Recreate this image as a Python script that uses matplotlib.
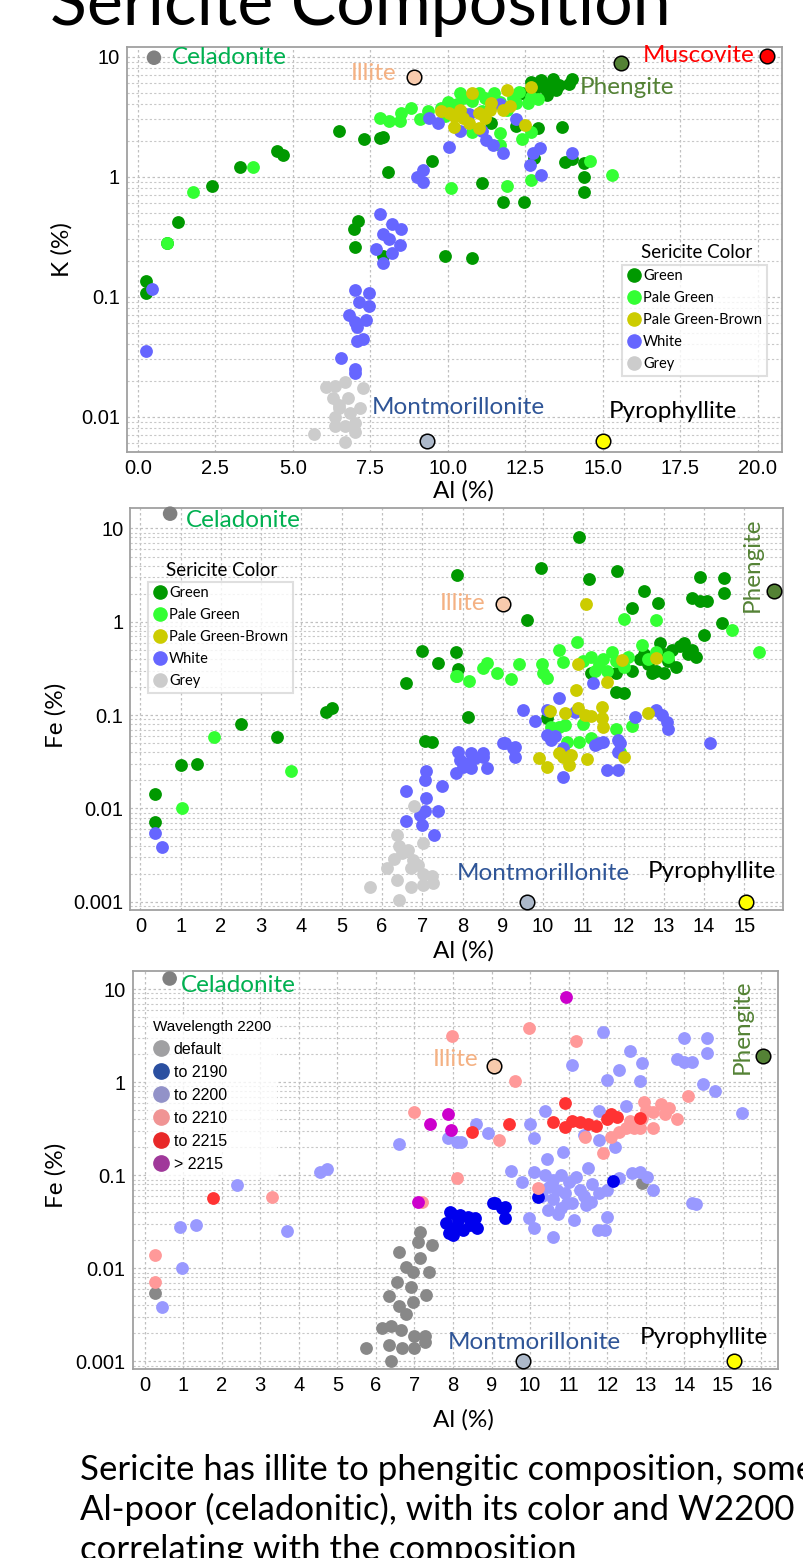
import matplotlib
matplotlib.use("Agg")
import matplotlib.pyplot as plt
from matplotlib.lines import Line2D
from matplotlib.ticker import FixedLocator, FixedFormatter, LogLocator, NullFormatter

# ---------------- data: panel 1 (Al vs K), by sericite color ----------------
k_green = [(0.26, 0.134), (0.26, 0.108), (0.93, 0.28), (1.3, 0.42), (2.4, 0.84), (3.3, 1.21),
           (4.5, 1.65), (4.7, 1.52), (6.5, 2.4), (7.3, 2.07), (7.8, 2.1), (7.9, 2.15), (9.5, 1.36),
           (8.06, 1.1), (7.1, 0.43), (6.97, 0.37), (7.0, 0.26), (7.9, 0.22), (9.9, 0.22), (10.8, 0.21),
           (11.1, 0.89), (11.8, 0.61), (12.45, 0.61), (11.4, 2.8), (12.2, 2.65), (12.9, 2.55),
           (13.7, 2.6), (12.8, 1.44), (13.8, 1.33), (14.0, 1.4), (14.4, 1.31), (14.4, 1.0), (14.4, 0.75),
           (12.4, 5.0), (13.0, 6.4), (13.4, 6.5), (14.0, 6.5), (13.5, 5.3), (13.2, 4.8), (12.7, 6.1),
           (13.1, 5.6), (12.97, 6.3), (13.6, 5.8), (13.3, 5.9), (12.8, 5.2), (12.6, 4.6), (13.9, 5.9)]
k_pale = [(0.93, 0.28), (1.77, 0.75), (3.7, 1.21), (7.8, 3.1), (8.1, 2.9), (8.45, 2.9), (8.5, 3.4),
          (8.8, 3.7), (9.1, 3.0), (9.35, 3.5), (9.8, 3.75), (9.9, 3.2), (10.2, 3.6), (10.5, 3.4),
          (10.4, 5.0), (10.5, 4.55), (11.0, 5.0), (11.2, 4.55), (11.5, 5.0), (11.7, 4.2), (12.1, 4.55),
          (12.3, 5.1), (12.6, 4.1), (12.7, 4.6), (11.1, 3.5), (11.9, 3.6), (12.2, 4.1), (10.8, 2.37),
          (11.7, 2.3), (12.4, 2.07), (12.7, 2.37), (11.7, 1.85), (11.9, 0.84), (12.7, 0.94), (10.1, 0.8),
          (14.6, 1.36), (15.3, 1.04), (10.0, 4.2), (10.8, 4.3), (11.4, 3.9), (12.9, 4.4), (10.3, 4.0)]
k_brown = [(9.8, 3.5), (10.05, 3.4), (10.2, 2.6), (10.8, 5.0), (11.0, 2.55), (10.5, 3.1), (11.0, 3.4),
           (11.35, 3.6), (11.4, 4.1), (11.9, 5.3), (11.8, 3.6), (12.5, 2.7), (12.7, 5.6), (10.2, 3.2),
           (10.7, 2.8), (11.2, 3.1), (10.4, 3.6), (12.0, 3.9)]
k_white = [(0.45, 0.117), (0.26, 0.035), (9.4, 3.1), (9.7, 2.8), (10.4, 2.4), (10.05, 1.78), (11.25, 2.03),
           (11.45, 1.85), (11.8, 1.58), (11.7, 4.0), (12.2, 3.0), (9.2, 1.14), (9.0, 1.0), (9.2, 0.91),
           (12.97, 1.74), (12.75, 1.58), (12.65, 1.26), (13.0, 1.04), (14.0, 1.58), (7.8, 0.49), (8.2, 0.40),
           (8.5, 0.37), (7.9, 0.33), (8.1, 0.30), (8.45, 0.27), (7.7, 0.25), (8.2, 0.23), (7.9, 0.19),
           (7.0, 0.114), (7.45, 0.108), (7.13, 0.091), (7.45, 0.083), (6.8, 0.071), (7.0, 0.062),
           (7.35, 0.064), (7.06, 0.056), (7.06, 0.043), (7.26, 0.044), (6.55, 0.031), (7.0, 0.025),
           (7.0, 0.023), (11.1, 2.4), (10.7, 3.3)]
k_grey = [(6.06, 0.0178), (6.35, 0.0181), (6.68, 0.0193), (7.26, 0.0175), (6.29, 0.0144), (6.77, 0.0144),
          (7.16, 0.0119), (6.48, 0.0119), (6.35, 0.0100), (7.0, 0.0089), (6.7, 0.0083), (6.35, 0.0083),
          (7.0, 0.0075), (5.68, 0.0072), (6.68, 0.0061), (6.48, 0.0126), (6.84, 0.0108)]

# ---------------- data: panel 2 (Al vs Fe), by sericite color ----------------
fe_green = [(0.37, 0.0144), (0.37, 0.0072), (1.0, 0.029), (1.4, 0.030), (2.5, 0.08), (3.4, 0.058),
            (4.6, 0.108), (4.76, 0.12), (6.6, 0.22), (7.0, 0.49), (7.4, 0.36), (7.84, 0.47), (7.9, 0.31),
            (7.87, 3.2), (7.07, 0.053), (7.25, 0.052), (8.14, 0.096), (9.95, 3.8), (10.9, 8.1),
            (11.14, 2.9), (11.84, 3.5), (13.9, 3.0), (14.5, 2.95), (14.5, 2.05), (12.5, 2.15),
            (12.85, 1.6), (12.2, 1.41), (13.7, 1.8), (13.9, 1.68), (14.06, 1.68), (9.6, 1.05),
            (14.45, 0.97), (14.0, 0.72), (11.8, 0.178), (12.0, 0.174), (11.2, 0.28), (11.8, 0.28),
            (10.1, 0.094), (12.4, 0.4), (12.6, 0.35), (12.8, 0.3), (13.0, 0.45), (13.2, 0.5), (13.4, 0.55),
            (13.5, 0.6), (13.6, 0.45), (13.7, 0.5), (13.8, 0.42), (12.9, 0.6), (13.1, 0.38), (12.7, 0.28),
            (13.3, 0.33), (12.2, 0.3), (12.5, 0.45), (13.0, 0.28)]
fe_pale = [(1.03, 0.0102), (1.84, 0.058), (3.75, 0.025), (7.84, 0.26), (12.0, 1.08), (12.8, 1.05),
           (14.7, 0.82), (15.36, 0.48), (10.84, 0.61), (10.4, 0.5), (12.45, 0.57), (8.6, 0.36), (8.5, 0.32),
           (8.86, 0.28), (9.2, 0.245), (9.4, 0.35), (9.97, 0.35), (10.0, 0.28), (10.1, 0.25), (10.5, 0.37),
           (7.87, 0.26), (8.16, 0.23), (11.7, 0.48), (12.8, 0.48), (10.2, 0.075), (10.4, 0.075),
           (10.55, 0.079), (11.0, 0.08), (11.2, 0.057), (10.9, 0.052), (11.8, 0.071), (12.2, 0.077),
           (11.9, 0.04), (10.6, 0.052), (11.0, 0.38), (11.2, 0.42), (11.4, 0.35), (11.5, 0.4), (11.6, 0.3),
           (11.8, 0.38), (12.0, 0.33), (11.3, 0.3), (12.1, 0.42), (12.6, 0.4), (13.1, 0.42)]
fe_brown = [(11.07, 1.56), (11.96, 0.39), (12.8, 0.41), (10.87, 0.35), (11.6, 0.227), (10.82, 0.187),
            (11.46, 0.123), (12.6, 0.106), (10.17, 0.11), (10.55, 0.106), (10.87, 0.12), (11.04, 0.1),
            (11.2, 0.098), (11.46, 0.094), (11.5, 0.075), (9.9, 0.035), (10.1, 0.028), (10.4, 0.039),
            (10.5, 0.036), (10.7, 0.037), (10.65, 0.029), (11.1, 0.034), (12.0, 0.036)]
fe_white = [(0.37, 0.0055), (0.55, 0.0039), (6.6, 0.0153), (7.07, 0.0203), (7.1, 0.025), (7.5, 0.0175),
            (6.6, 0.0074), (7.07, 0.0094), (6.95, 0.0086), (7.0, 0.0067), (7.3, 0.0052), (7.1, 0.013),
            (7.4, 0.0094), (7.85, 0.024), (7.95, 0.033), (8.14, 0.031), (8.3, 0.035), (8.5, 0.036),
            (8.6, 0.027), (7.9, 0.04), (8.2, 0.027), (8.0, 0.028), (9.06, 0.05), (9.3, 0.046), (9.3, 0.036),
            (10.2, 0.054), (10.5, 0.022), (11.6, 0.026), (11.85, 0.026), (11.4, 0.05), (11.9, 0.05),
            (14.15, 0.05), (10.4, 0.154), (9.5, 0.114), (9.8, 0.087), (10.1, 0.114), (10.8, 0.109),
            (11.24, 0.222), (12.8, 0.114), (12.95, 0.1), (13.08, 0.085), (13.1, 0.071), (12.28, 0.096),
            (10.1, 0.061), (9.0, 0.05), (9.25, 0.045), (11.5, 0.052), (11.86, 0.054), (11.86, 0.04),
            (8.2, 0.039), (8.5, 0.039), (11.3, 0.048), (10.5, 0.045), (10.3, 0.06)]
fe_grey = [(6.38, 0.0052), (6.3, 0.0029), (6.13, 0.0023), (6.43, 0.0040), (6.65, 0.0036), (6.77, 0.0028),
           (7.02, 0.0043), (6.72, 0.0023), (6.38, 0.0017), (7.02, 0.0020), (7.25, 0.0019), (7.27, 0.0016),
           (7.02, 0.0015), (6.72, 0.00144), (5.7, 0.00145), (6.43, 0.00105), (6.8, 0.0106), (6.5, 0.0033),
           (6.9, 0.0025)]

# ---------------- data: panel 3 (Al vs Fe), by wavelength 2200 ----------------
w_default = [(7.14, 0.0246), (7.09, 0.0193), (7.45, 0.0178), (6.6, 0.0151), (7.14, 0.013), (6.78, 0.0104),
             (6.55, 0.0072), (6.96, 0.0092), (7.38, 0.0092), (6.9, 0.0063), (7.3, 0.0052), (6.34, 0.005),
             (6.6, 0.0039), (6.96, 0.0043), (6.78, 0.0032), (6.16, 0.0023), (6.4, 0.0024), (6.65, 0.0022),
             (7.0, 0.0019), (7.27, 0.0019), (6.34, 0.0015), (7.27, 0.0016), (5.74, 0.0014), (6.68, 0.0014),
             (7.0, 0.0014), (6.4, 0.0010), (0.26, 0.0055), (12.9, 0.083)]
w_2190 = [(7.9, 0.024), (7.95, 0.039), (8.13, 0.033), (8.26, 0.026), (8.39, 0.036), (8.57, 0.035),
          (8.62, 0.027), (8.08, 0.028), (7.82, 0.031), (8.44, 0.029), (8.18, 0.037), (8.0, 0.023),
          (9.1, 0.05), (9.35, 0.046), (9.35, 0.035), (9.04, 0.05), (9.27, 0.045), (10.2, 0.058),
          (12.15, 0.087), (7.92, 0.040)]
w_2200 = [(6.6, 0.217), (4.55, 0.108), (4.73, 0.117), (2.4, 0.079), (7.87, 0.25), (8.1, 0.228),
          (0.44, 0.0038), (0.96, 0.0101), (0.93, 0.028), (1.33, 0.029), (3.7, 0.025), (11.9, 3.43),
          (12.6, 2.15), (12.9, 1.6), (12.3, 1.35), (12.0, 1.05), (12.85, 1.02), (11.1, 1.52), (14.0, 2.96),
          (14.6, 2.96), (14.6, 2.05), (13.8, 1.76), (14.0, 1.64), (14.2, 1.64), (14.5, 0.95), (14.8, 0.8),
          (15.5, 0.465), (10.4, 0.49), (11.8, 0.49), (12.5, 0.55), (8.6, 0.355), (8.9, 0.285), (8.2, 0.228),
          (10.0, 0.355), (10.1, 0.25), (11.4, 0.27), (11.8, 0.24), (12.2, 0.2), (10.86, 0.178),
          (10.45, 0.149), (9.5, 0.11), (9.8, 0.085), (10.1, 0.108), (12.3, 0.093), (12.65, 0.106),
          (12.86, 0.108), (13.04, 0.096), (13.2, 0.07), (14.2, 0.05), (11.5, 0.12), (10.4, 0.1), (10.6, 0.09),
          (10.8, 0.1), (11.0, 0.085), (11.2, 0.095), (10.5, 0.075), (10.7, 0.07), (10.9, 0.065), (11.3, 0.07),
          (10.3, 0.06), (10.6, 0.055), (11.1, 0.05), (10.8, 0.045), (11.4, 0.06), (11.6, 0.08), (11.8, 0.065),
          (12.0, 0.07), (9.97, 0.035), (10.1, 0.027), (10.47, 0.042), (10.6, 0.022), (10.73, 0.038),
          (11.14, 0.033), (11.45, 0.048), (11.77, 0.026), (11.95, 0.026), (12.0, 0.036), (10.96, 0.05),
          (11.58, 0.052), (14.3, 0.049)]
w_2210 = [(7.97, 3.1), (7.0, 0.48), (3.3, 0.058), (8.1, 0.093), (7.2, 0.052), (9.97, 3.8), (11.2, 2.8),
          (9.6, 1.02), (14.1, 0.71), (9.2, 0.24), (11.9, 0.174), (10.2, 0.073), (11.43, 0.26), (12.96, 0.61),
          (13.4, 0.58), (13.6, 0.53), (13.8, 0.4), (13.2, 0.48), (12.9, 0.41), (12.7, 0.32), (12.5, 0.32),
          (12.3, 0.29), (12.1, 0.26), (13.2, 0.32), (12.86, 0.32), (0.26, 0.014), (0.26, 0.0072),
          (13.0, 0.5), (13.5, 0.45), (12.6, 0.38)]
w_2215 = [(1.77, 0.057), (10.9, 0.6), (9.45, 0.355), (8.5, 0.29), (10.6, 0.37), (10.9, 0.33), (11.1, 0.38),
          (11.3, 0.37), (11.5, 0.355), (11.7, 0.34), (12.0, 0.4), (12.25, 0.42), (12.1, 0.46), (12.86, 0.41)]
w_over = [(10.93, 8.2), (7.87, 0.45), (7.4, 0.355), (7.95, 0.306), (7.1, 0.052)]

# reference minerals: name -> (Al, K) / (Al, Fe)
ref_k = {"Celadonite": (0.52, 9.8), "Illite": (8.9, 6.8), "Phengite": (15.6, 8.9),
         "Muscovite": (20.3, 10.2), "Montmorillonite": (9.33, 0.0063), "Pyrophyllite": (15.0, 0.0063)}
ref_fe2 = {"Celadonite": (0.74, 14.4), "Illite": (9.0, 1.56), "Phengite": (15.73, 2.15),
           "Montmorillonite": (9.6, 0.001), "Pyrophyllite": (15.03, 0.001)}
ref_fe3 = {"Celadonite": (0.65, 13.0), "Illite": (9.06, 1.48), "Phengite": (16.05, 1.9),
           "Montmorillonite": (9.82, 0.001), "Pyrophyllite": (15.3, 0.001)}

color_names = ["Green", "Pale Green", "Pale Green-Brown", "White", "Grey"]
color_cols = ["#009900", "#33ff33", "#cccc00", "#6666ff", "#cccccc"]
wl_names = ["default", "to 2190", "to 2200", "to 2210", "to 2215", "> 2215"]
wl_cols = ["#888888", "#0000ee", "#9999ff", "#ff9999", "#ff3333", "#cc00cc"]
wl_legend_cols = ["#a0a0a2", "#2a4fa0", "#9292c8", "#f09494", "#e82828", "#a0389a"]

ref_face = {"Celadonite": "#808080", "Illite": "#f8cbad", "Phengite": "#548235",
            "Muscovite": "#ff0000", "Montmorillonite": "#adb9ca", "Pyrophyllite": "#ffff00"}
ref_text = {"Celadonite": "#00b050", "Illite": "#f4b183", "Phengite": "#548235",
            "Muscovite": "#ff0000", "Montmorillonite": "#2f5597", "Pyrophyllite": "#000000"}

LBL = ["Lato", "DejaVu Sans"]
TICK = ["Liberation Sans Narrow", "Liberation Sans", "DejaVu Sans"]
PT = 85
NAME_FS = 17.5


def scatter_group(ax, pts, col):
    ax.scatter([p[0] for p in pts], [p[1] for p in pts], s=PT, color=col, lw=0, zorder=3)


def draw_refs(ax, refs):
    for name, (x, y) in refs.items():
        edge = "none" if name == "Celadonite" else "black"
        ax.scatter([x], [y], s=110, color=ref_face[name], edgecolors=edge, lw=1.1, zorder=5, clip_on=False)


def style_axes(ax, xlim, ylim, xt, xfmt):
    ax.set_yscale("log")
    ax.set_xlim(*xlim)
    ax.set_ylim(*ylim)
    ax.xaxis.set_major_locator(FixedLocator(xt))
    ax.xaxis.set_major_formatter(FixedFormatter([xfmt(v) for v in xt]))
    yt = [v for v in [0.001, 0.01, 0.1, 1, 10] if ylim[0] <= v <= ylim[1]]
    ax.yaxis.set_major_locator(FixedLocator(yt))
    ax.yaxis.set_major_formatter(FixedFormatter([("%g" % v) for v in yt]))
    ax.yaxis.set_minor_locator(LogLocator(base=10, subs=range(2, 10)))
    ax.yaxis.set_minor_formatter(NullFormatter())
    ax.grid(True, which="major", axis="both", ls=(0, (2, 2)), color="#c0c0c0", lw=0.9)
    ax.grid(True, which="minor", axis="y", ls=(0, (2, 2)), color="#c8c8c8", lw=0.8)
    ax.set_axisbelow(True)
    for s in ax.spines.values():
        s.set_color("#a0a0a0")
        s.set_linewidth(1.3)
    ax.tick_params(which="both", length=0, pad=5, labelsize=14.5)
    for lab in ax.get_xticklabels() + ax.get_yticklabels():
        lab.set_family(TICK)


def name_label(ax, x, y, name, **kw):
    ax.text(x, y, name, color=ref_text[name], fontsize=NAME_FS, family=LBL, va="center", **kw)


def color_legend(handles, x0, y0, title_xy):
    leg = fig.legend(handles, color_names, loc="upper left", bbox_to_anchor=(x0 / 804, 1 - y0 / 1558),
                     frameon=True, fancybox=False, edgecolor="#d8d8d8", handletextpad=0.15, handlelength=1.0,
                     borderpad=0.3, labelspacing=0.55, borderaxespad=0, prop={"family": LBL, "size": 10.5})
    leg.get_frame().set_linewidth(1.5)
    fig.text(title_xy[0] / 804, 1 - title_xy[1] / 1558, "Sericite Color", fontsize=13.5, family=LBL,
             ha="center", va="center")
    return leg


fig = plt.figure(figsize=(8.04, 15.58), dpi=100)

fig.text(50 / 804, 1 - 25 / 1558, "Sericite Composition", fontsize=49, family=LBL, va="baseline")

# ---------------- panel 1 ----------------
ax1 = fig.add_axes([0.158, 0.710, 0.815, 0.260])
for pts, col in zip([k_green, k_pale, k_white, k_brown, k_grey],
                    [color_cols[0], color_cols[1], color_cols[3], color_cols[2], color_cols[4]]):
    scatter_group(ax1, pts, col)
draw_refs(ax1, ref_k)
style_axes(ax1, (-0.35, 20.8), (0.0051, 12.1), [0, 2.5, 5, 7.5, 10, 12.5, 15, 17.5, 20], lambda v: "%.1f" % v)
name_label(ax1, 1.1, 9.8, "Celadonite")
name_label(ax1, 8.35, 7.2, "Illite", ha="right")
name_label(ax1, 14.26, 5.5, "Phengite")
name_label(ax1, 19.9, 10.2, "Muscovite", ha="right")
name_label(ax1, 7.55, 0.012, "Montmorillonite")
name_label(ax1, 15.2, 0.011, "Pyrophyllite")
fig.text(463 / 804, 1 - 491 / 1558, "Al (%)", fontsize=17.5, family=LBL, ha="center", va="center")
fig.text(62 / 804, 1 - 250 / 1558, "K (%)", fontsize=17.5, family=LBL, ha="center", va="center", rotation=90)

h1 = [Line2D([], [], ls="none", marker="o", ms=9.5, mfc=c, mec=c) for c in color_cols]
color_legend(h1, 622, 265, (697, 253))

# ---------------- panel 2 ----------------
ax2 = fig.add_axes([0.162, 0.416, 0.812, 0.258])
for pts, col in zip([fe_green, fe_pale, fe_white, fe_brown, fe_grey],
                    [color_cols[0], color_cols[1], color_cols[3], color_cols[2], color_cols[4]]):
    scatter_group(ax2, pts, col)
draw_refs(ax2, ref_fe2)
style_axes(ax2, (-0.25, 15.96), (0.00082, 16.6), list(range(16)), lambda v: "%d" % v)
name_label(ax2, 1.12, 12.1, "Celadonite")
name_label(ax2, 8.56, 1.56, "Illite", ha="right")
name_label(ax2, 15.2, 4.1, "Phengite", ha="center", rotation=90)
name_label(ax2, 10.0, 0.002, "Montmorillonite", ha="center")
name_label(ax2, 14.2, 0.0021, "Pyrophyllite", ha="center")
fig.text(463 / 804, 1 - 951 / 1558, "Al (%)", fontsize=17.5, family=LBL, ha="center", va="center")
fig.text(56 / 804, 1 - 715 / 1558, "Fe (%)", fontsize=17.5, family=LBL, ha="center", va="center", rotation=90)
color_legend(h1, 148, 582, (222, 570))

# ---------------- panel 3 ----------------
ax3 = fig.add_axes([0.165, 0.121, 0.803, 0.256])
for pts, col in zip([w_default, w_2200, w_2190, w_2210, w_2215, w_over],
                    [wl_cols[0], wl_cols[2], wl_cols[1], wl_cols[3], wl_cols[4], wl_cols[5]]):
    scatter_group(ax3, pts, col)
draw_refs(ax3, ref_fe3)
style_axes(ax3, (-0.31, 16.44), (0.00082, 15.8), list(range(17)), lambda v: "%d" % v)
name_label(ax3, 0.94, 11.0, "Celadonite")
name_label(ax3, 8.65, 1.76, "Illite", ha="right")
name_label(ax3, 15.5, 3.9, "Phengite", ha="center", rotation=90)
name_label(ax3, 10.1, 0.0016, "Montmorillonite", ha="center")
name_label(ax3, 14.5, 0.0018, "Pyrophyllite", ha="center")
fig.text(463 / 804, 1 - 1420 / 1558, "Al (%)", fontsize=17.5, family=LBL, ha="center", va="center")
fig.text(56 / 804, 1 - 1175 / 1558, "Fe (%)", fontsize=17.5, family=LBL, ha="center", va="center", rotation=90)

h3 = [Line2D([], [], ls="none", marker="o", ms=11, mfc=c, mec=c) for c in wl_legend_cols]
leg3 = fig.legend(h3, wl_names, loc="upper left", bbox_to_anchor=(148 / 804, 1 - 1015 / 1558),
                  title="Wavelength 2200", frameon=True, fancybox=False, edgecolor="white",
                  facecolor="white", handletextpad=0.3, handlelength=1.0, borderpad=0.3, labelspacing=0.5,
                  borderaxespad=0, prop={"family": ["Liberation Sans", "DejaVu Sans"], "size": 11.5})
leg3.get_title().set_fontsize(11)
leg3.get_title().set_family(["Liberation Sans", "DejaVu Sans"])
leg3._legend_box.align = "left"

# ---------------- caption ----------------
cap = ["Sericite has illite to phengitic composition, some",
       "Al-poor (celadonitic), with its color and W2200",
       "correlating with the composition"]
for i, line in enumerate(cap):
    fig.text(80 / 804, 1 - (1480 + 40 * i) / 1558, line, fontsize=25, family=LBL, va="baseline")

fig.savefig("out.png", dpi=100)
